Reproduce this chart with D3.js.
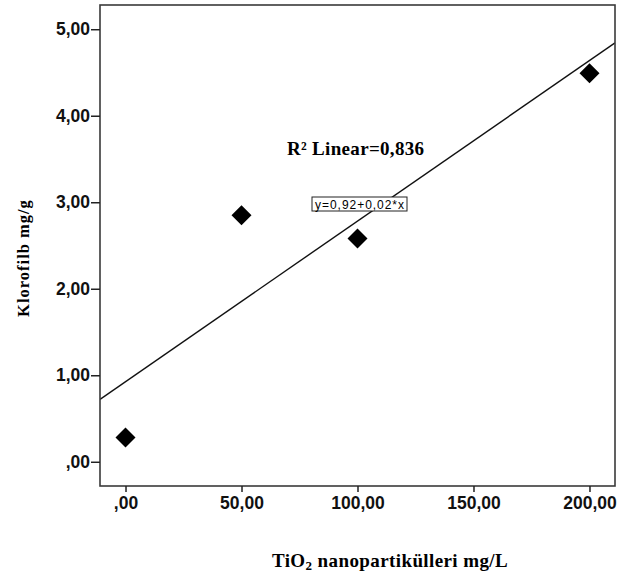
<!doctype html>
<html>
<head>
  <script src="https://cdn.jsdelivr.net/npm/d3@7"></script>
  <style>
    body { margin: 0; background: #fff; }
  </style>
</head>
<body>
  <div id="viz"></div>
  <script>
    // data
    var doses = [0, 50, 100, 200];
    var chlorophyll = [0.28, 2.85, 2.58, 4.49];
    var xTicks = [0, 50, 100, 150, 200];
    var yTicks = [0, 1, 2, 3, 4, 5];
    var r2Label = "R\u00B2 Linear=0,836";
    var eqLabel = "y=0,92+0,02*x";

    var width = 635, height = 579;
    var plot = {left: 100, right: 615, top: 5, bottom: 486};

    var svg = d3.select("#viz").append("svg")
        .attr("width", width)
        .attr("height", height);

    var x = d3.scaleLinear().domain([-11, 211]).range([plot.left, plot.right]);
    var y = d3.scaleLinear().domain([-0.28, 5.28]).range([plot.bottom, plot.top]);

    // SPSS style numbers: comma decimal, no leading zero for 0
    function fmt(v) {
      var s = d3.format(".2f")(v).replace(".", ",");
      return s == "0,00" ? ",00" : s;
    }

    var points = doses.map(function(d, i) { return {x: d, y: chlorophyll[i]}; });

    // least squares fit
    var mx = d3.mean(doses), my = d3.mean(chlorophyll);
    var sxy = d3.sum(points, function(p) { return (p.x - mx) * (p.y - my); });
    var sxx = d3.sum(points, function(p) { return (p.x - mx) * (p.x - mx); });
    var slope = sxy / sxx, icpt = my - slope * mx;

    svg.append("clipPath").attr("id", "clip")
      .append("rect")
        .attr("x", plot.left).attr("y", plot.top)
        .attr("width", plot.right - plot.left)
        .attr("height", plot.bottom - plot.top);

    var xd = x.domain();
    svg.append("line")
        .attr("clip-path", "url(#clip)")
        .attr("x1", x(xd[0])).attr("y1", y(icpt + slope * xd[0]))
        .attr("x2", x(xd[1])).attr("y2", y(icpt + slope * xd[1]))
        .style("stroke", "#111")
        .style("stroke-width", 1.4);

    // frame
    svg.append("rect")
        .attr("x", plot.left).attr("y", plot.top)
        .attr("width", plot.right - plot.left)
        .attr("height", plot.bottom - plot.top)
        .style("fill", "none")
        .style("stroke", "#3a3a3a")
        .style("stroke-width", 1.6);

    // axes
    var yAxis = svg.append("g")
        .attr("transform", "translate(" + plot.left + ",0)")
        .call(d3.axisLeft(y).tickValues(yTicks).tickFormat(fmt).tickSize(9).tickPadding(1));
    var xAxis = svg.append("g")
        .attr("transform", "translate(0," + plot.bottom + ")")
        .call(d3.axisBottom(x).tickValues(xTicks).tickFormat(fmt).tickSize(6).tickPadding(5));

    [yAxis, xAxis].forEach(function(a) {
      a.select(".domain").remove();
      a.selectAll(".tick line").style("stroke", "#222").style("stroke-width", 1.5);
      a.selectAll(".tick text")
        .style("font-family", "'Liberation Sans', Arial, sans-serif")
        .style("font-weight", "bold")
        .style("font-size", "17.5px")
        .style("fill", "#111");
    });

    // diamonds
    svg.selectAll(".pt").data(points).enter().append("path")
        .attr("class", "pt")
        .attr("d", d3.symbol().type(d3.symbolSquare).size(200))
        .attr("transform", function(d) { return "translate(" + x(d.x) + "," + y(d.y) + ") rotate(45)"; })
        .style("fill", "#000");

    // annotations
    svg.append("text")
        .attr("x", 287).attr("y", 155)
        .attr("textLength", 137)
        .style("font-family", "'Liberation Serif', 'Times New Roman', serif")
        .style("font-weight", "bold")
        .style("font-size", "19px")
        .text(r2Label);

    var eq = svg.append("g").attr("transform", "translate(312,197)");
    eq.append("rect")
        .attr("width", 95).attr("height", 14)
        .style("fill", "#fff")
        .style("stroke", "#222")
        .style("stroke-width", 1);
    eq.append("text")
        .attr("x", 3).attr("y", 11.5)
        .attr("textLength", 89)
        .style("font-family", "'Liberation Sans', Arial, sans-serif")
        .style("font-size", "12px")
        .text(eqLabel);

    // axis titles
    var xt = svg.append("text")
        .attr("x", 390).attr("y", 567)
        .attr("text-anchor", "middle")
        .style("font-family", "'Liberation Serif', 'Times New Roman', serif")
        .style("font-weight", "bold")
        .style("font-size", "19px")
        .style("letter-spacing", "0.4px");
    xt.append("tspan").text("TiO");
    xt.append("tspan").attr("dy", 3).style("font-size", "13px").text("2");
    xt.append("tspan").attr("dy", -3).text(" nanopartikülleri mg/L");

    svg.append("text")
        .attr("transform", "translate(29,258) rotate(-90)")
        .attr("text-anchor", "middle")
        .style("font-family", "'Liberation Serif', 'Times New Roman', serif")
        .style("font-weight", "bold")
        .style("font-size", "16.5px")
        .style("letter-spacing", "1px")
        .text("Klorofilb  mg/g");
  </script>
</body>
</html>
